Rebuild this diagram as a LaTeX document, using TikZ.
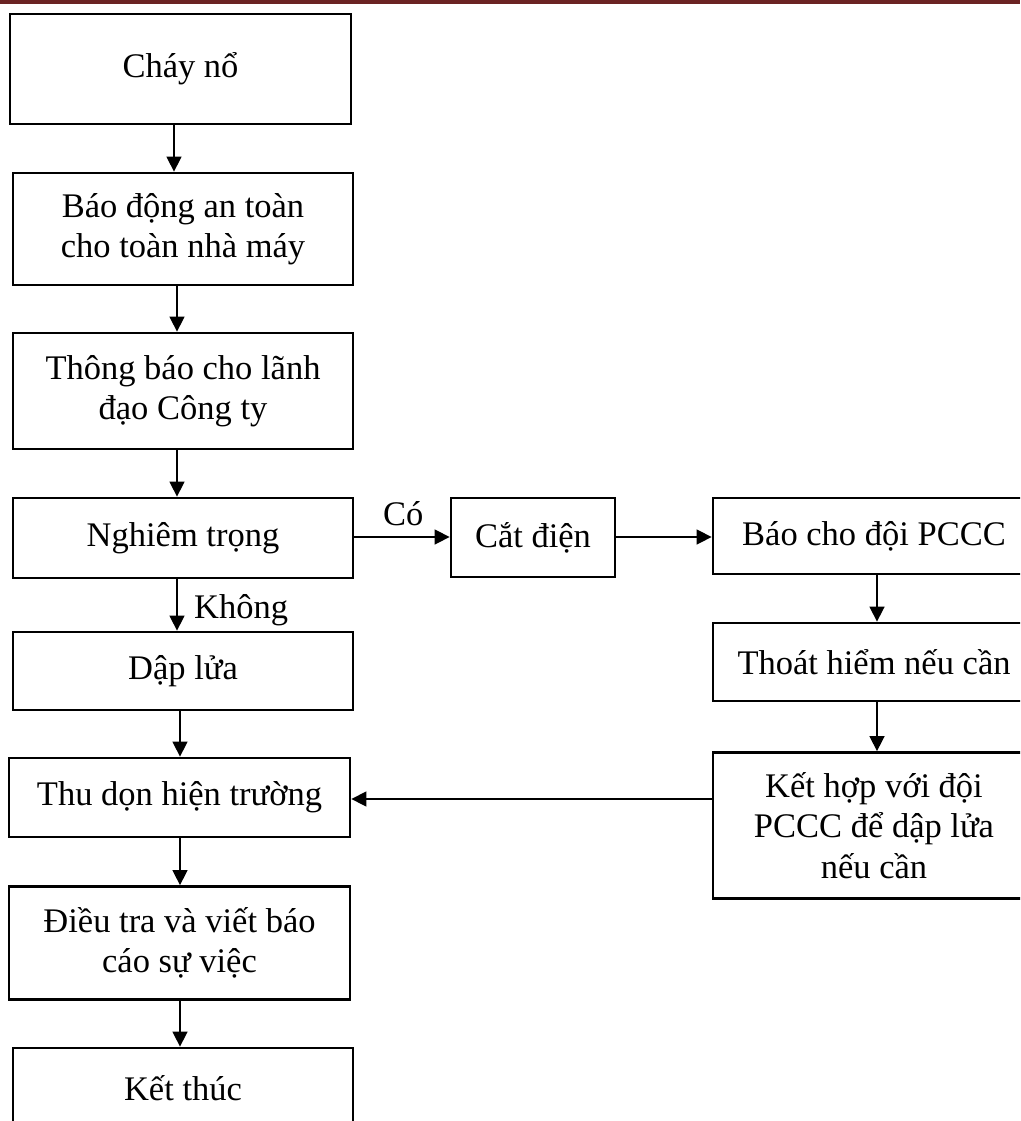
\documentclass[tikz,border=0pt]{standalone}
\usepackage{fontspec}
\setmainfont{Liberation Serif}
\usetikzlibrary{arrows.meta}
\definecolor{hdr}{HTML}{6B2323}
\begin{document}
\begin{tikzpicture}[x=1pt,y=-1pt,
  box/.style={draw, line width=2.8pt, rectangle, align=center, inner sep=0pt,
              font=\fontsize{34.5}{40.5}\selectfont},
  arr/.style={line width=1.5pt, -{Triangle[length=15pt,width=15pt]}},
  lbl/.style={font=\fontsize{34.5}{40.5}\selectfont, inner sep=0pt}]
\clip (0,0) rectangle (1020,1121);
% header rule
\fill[hdr] (0,0) rectangle (1020,3.6);

% main column
\node[box, minimum width=341pt, minimum height=110pt] (b1) at (180.5,69)  {Cháy nổ};
\node[box, minimum width=340pt, minimum height=112pt] (b2) at (183,229)   {Báo động an toàn\\cho toàn nhà máy};
\node[box, minimum width=340pt, minimum height=116pt] (b3) at (183,391)   {Thông báo cho lãnh\\đạo Công ty};
\node[box, minimum width=340pt, minimum height=80pt]  (b4) at (183,538)   {Nghiêm trọng};
\node[box, minimum width=340pt, minimum height=78pt]  (b5) at (183,671)   {Dập lửa};
\node[box, minimum width=341pt, minimum height=79pt]  (b6) at (179.5,797.5) {Thu dọn hiện trường};
\node[box, minimum width=341pt, minimum height=113pt] (b7) at (179.5,943) {Điều tra và viết báo\\cáo sự việc};
\node[box, minimum width=340pt, minimum height=80pt]  (b8) at (183,1088)  {Kết thúc};

% branch
\node[box, minimum width=164pt, minimum height=79pt]  (cat) at (533,537.5) {Cắt điện};
\node[box, minimum width=322pt, minimum height=76pt]  (pc)  at (874,536)   {Báo cho đội PCCC};
\node[box, minimum width=322pt, minimum height=78pt]  (th)  at (874,662)   {Thoát hiểm nếu cần};
\node[box, minimum width=322pt, minimum height=146pt] (kh)  at (874,825.5) {Kết hợp với đội\\PCCC để dập lửa\\nếu cần};

% guide coordinates for connectors
\coordinate (c1) at (174,0);
\coordinate (c2) at (177,0);
\coordinate (c3) at (180,0);
\coordinate (cR) at (877,0);
\coordinate (r1) at (0,537);
\coordinate (r2) at (0,799);

\draw[arr] (b1.south -| c1) -- (b2.north -| c1);
\draw[arr] (b2.south -| c2) -- (b3.north -| c2);
\draw[arr] (b3.south -| c2) -- (b4.north -| c2);
\draw[arr] (b4.south -| c2) -- (b5.north -| c2);
\draw[arr] (b5.south -| c3) -- (b6.north -| c3);
\draw[arr] (b6.south -| c3) -- (b7.north -| c3);
\draw[arr] (b7.south -| c3) -- (b8.north -| c3);

\draw[arr] (b4.east |- r1) -- (cat.west |- r1);
\draw[arr] (cat.east |- r1) -- (pc.west |- r1);
\draw[arr] (pc.south -| cR) -- (th.north -| cR);
\draw[arr] (th.south -| cR) -- (kh.north -| cR);
\draw[arr] (kh.west |- r2) -- (b6.east |- r2);

% branch labels
\node[lbl, anchor=base west] (co) at (383,525) {Có};
\node[lbl, anchor=base west] (kg) at (194,618) {Không};
\end{tikzpicture}
\end{document}
